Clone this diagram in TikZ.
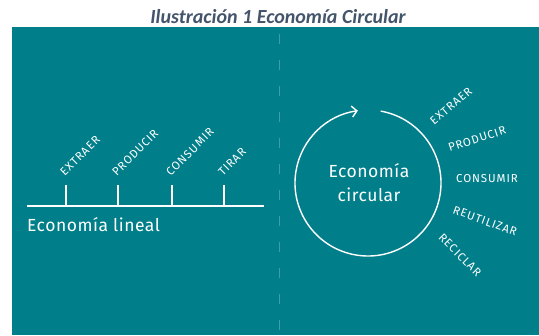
\documentclass[tikz,border=0pt]{standalone}
\usepackage{fontspec}
\setmainfont{Fira Sans}
\newfontfamily\capfont{Carlito}
\newfontfamily\labfont[LetterSpace=8]{Fira Sans}
\newfontfamily\bigfont[LetterSpace=3]{Fira Sans}
\usetikzlibrary{arrows.meta}
\definecolor{teal1}{HTML}{007F8B}
\definecolor{dashc}{HTML}{3F9EA9}
\definecolor{capc}{HTML}{44546A}
\tikzset{
  wline/.style={white, line width=1.4pt},
  lab/.style={text=white, font=\labfont\fontsize{11.5}{11.5}\selectfont, inner sep=0pt},
  big/.style={text=white, font=\bigfont\fontsize{17.5}{24}\selectfont, inner sep=0pt, align=center},
}
\begin{document}
\begin{tikzpicture}[x=1pt,y=-1pt]
\useasboundingbox (0,0) rectangle (539,336);
\node[text=capc, font=\capfont\itshape\bfseries\fontsize{20}{20}\selectfont, inner sep=0pt, anchor=base] (title) at (278,24) {Ilustración 1 Economía Circular};
\fill[teal1] (12,27) rectangle (539,335);
\coordinate (dtop) at (279,34);
\coordinate (dbot) at (279,332);
\draw[dashc, line width=0.8pt, dash pattern=on 10pt off 16pt] (dtop) -- (dbot);
% linear economy
\coordinate (l0) at (27,206);
\coordinate (l1) at (264,206);
\draw[wline] (l0) -- (l1);
\foreach \x/\n/\t in {66/a/EXTRAER,118/b/PRODUCIR,172/c/CONSUMIR,224/d/TIRAR}{
  \coordinate (t\n) at (\x,206);
  \coordinate (u\n) at (\x,185);
  \draw[wline] (t\n) -- (u\n);
  \node[lab, rotate=45, anchor=south west] (L\n) at (\x-1,177) {\t};
}
\node[big, anchor=base west] (lin) at (27,232) {Economía lineal};
% circular economy
\coordinate (c) at (368,183);
\draw[wline, -{Straight Barb[length=5pt,width=11pt]}] (c) ++(80:73pt) arc[start angle=80, end angle=-262, radius=73pt];
\node[big] (circ) at (369,183) {Economía\\circular};
\node[lab, rotate=40] (r1) at (451,106) {EXTRAER};
\node[lab, rotate=18] (r2) at (477,139) {PRODUCIR};
\node[lab] (r3) at (487,179) {CONSUMIR};
\node[lab, rotate=-20] (r4) at (485,221) {REUTILIZAR};
\node[lab, rotate=-45] (r5) at (460,255) {RECICLAR};
\end{tikzpicture}
\end{document}
